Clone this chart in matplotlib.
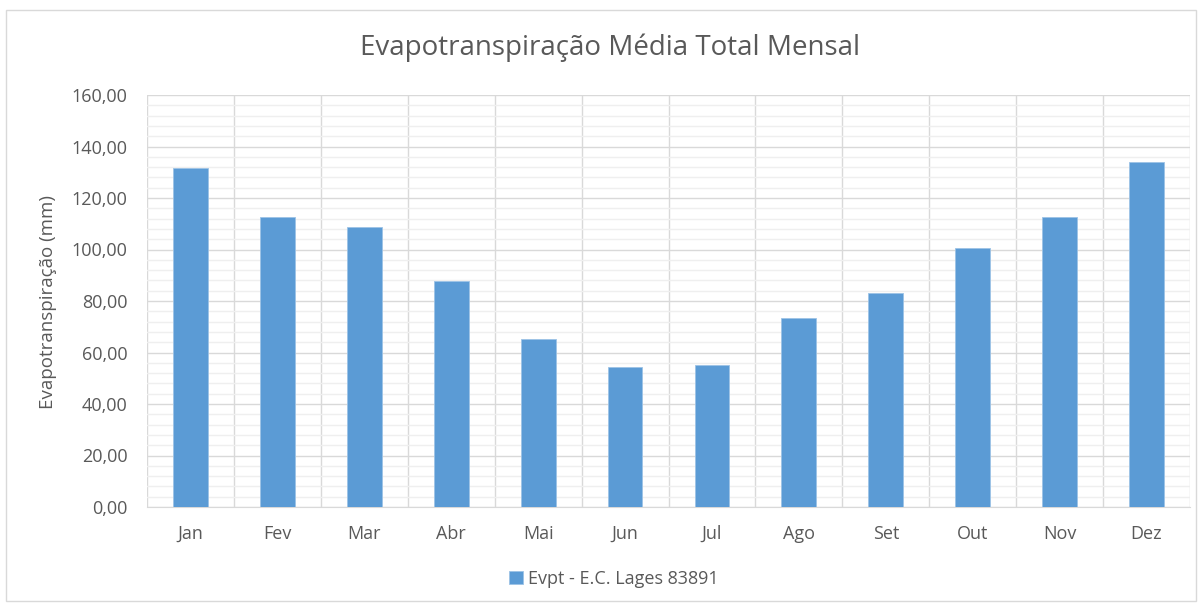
import numpy as np
import matplotlib.pyplot as plt
from matplotlib.patches import Rectangle

# monthly data
months = ['Jan', 'Fev', 'Mar', 'Abr', 'Mai', 'Jun', 'Jul', 'Ago', 'Set', 'Out', 'Nov', 'Dez']
evpt = [131.6, 112.5, 108.6, 87.6, 65.1, 54.5, 55.3, 73.4, 83.3, 100.7, 112.6, 133.8]

plt.rcParams['font.family'] = ['Open Sans', 'DejaVu Sans']
txt = '#595959'

fig = plt.figure(figsize=(12.02, 6.06), dpi=100)
ax = fig.add_axes([147/1202, 1 - 507/606, (1190-147)/1202, (507-95)/606])

x = np.arange(len(months))
ax.bar(x, evpt, width=0.40, color='#5B9BD5', edgecolor='#9DC3E6', linewidth=0.6,
       label='Evpt - E.C. Lages 83891', zorder=3)

ax.set_xlim(-0.5, 11.5)
ax.set_ylim(0, 160)
ax.set_yticks(np.arange(0, 161, 20))
ax.set_yticks(np.arange(0, 161, 4), minor=True)
ax.set_yticklabels([f'{v:.2f}'.replace('.', ',') for v in np.arange(0, 161, 20)])
ax.set_xticks(x)
ax.set_xticklabels(months)
ax.set_xticks(np.arange(-0.5, 12, 1), minor=True)

ax.grid(axis='y', which='major', color='#D9D9D9', linewidth=1.0, zorder=0)
ax.grid(axis='y', which='minor', color='#EFEFEF', linewidth=1.0, zorder=0)
ax.grid(axis='x', which='minor', color='#D9D9D9', linewidth=1.0, zorder=0)
ax.grid(axis='x', which='major', visible=False)

ax.tick_params(which='both', length=0)
ax.tick_params(axis='y', labelsize=13, colors=txt, pad=14)
ax.tick_params(axis='x', labelsize=13, colors=txt, pad=13)
for s in ['top', 'right', 'left']:
    ax.spines[s].set_visible(False)
ax.spines['bottom'].set_color('#D9D9D9')

ax.set_ylabel('Evapotranspiração (mm)', fontsize=13.5, color=txt)
ax.yaxis.set_label_coords(57/1202, (606 - 302)/606, transform=fig.transFigure)
fig.text(610/1202, 1 - 48/606, 'Evapotranspiração Média Total Mensal', ha='center', va='center',
         fontsize=20, color=txt)

fig.legend(loc='center', bbox_to_anchor=(614/1202, 1 - 579/606), frameon=False,
           fontsize=13, labelcolor=txt, handlelength=0.75, handleheight=0.75, handletextpad=0.3)

fig.patches.append(Rectangle((6/1202, 1 - 601/606), 1190/1202, 591/606, transform=fig.transFigure,
                             fill=False, edgecolor='#D9D9D9', linewidth=1.0))

fig.savefig('out.png', dpi=100, facecolor='white')
